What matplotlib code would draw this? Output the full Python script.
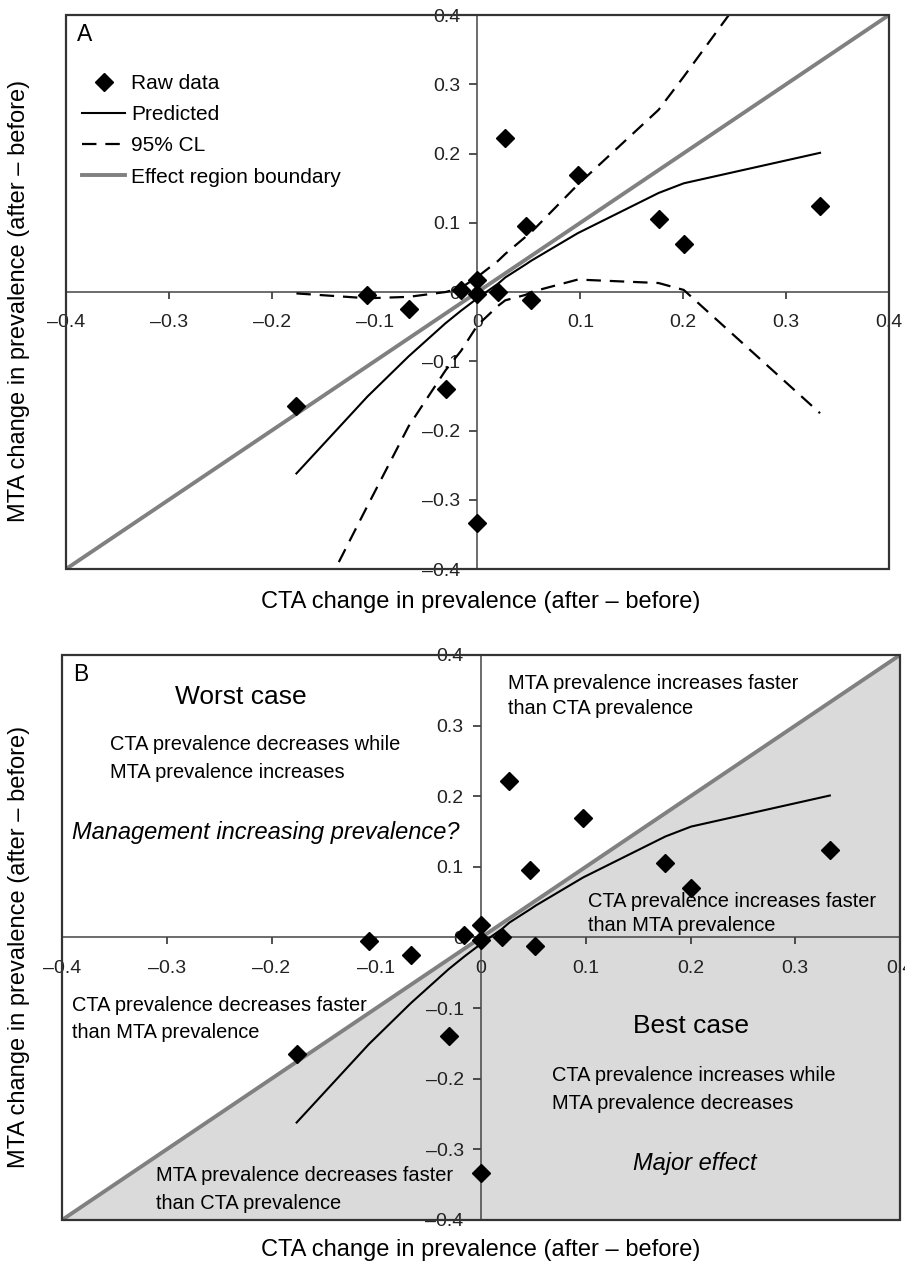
import matplotlib
matplotlib.use("Agg")
from matplotlib import pyplot as plt
from matplotlib.lines import Line2D
from matplotlib.patches import Rectangle
from matplotlib.ticker import FuncFormatter

plt.rcParams['font.family'] = ['Liberation Sans', 'DejaVu Sans']

# raw data (CTA change, MTA change)
raw_x = [-0.176, -0.107, -0.067, -0.031, -0.016, 0.0, 0.0, 0.0, 0.020,
         0.027, 0.047, 0.052, 0.0975, 0.176, 0.2005, 0.333]
raw_y = [-0.165, -0.005, -0.025, -0.140, 0.003, 0.018, -0.003, -0.334,
         0.0, 0.222, 0.096, -0.012, 0.169, 0.105, 0.070, 0.124]

# predicted curve and 95% confidence limits
pred_x = [-0.176, -0.107, -0.067, -0.031, -0.016, 0.0, 0.020, 0.027,
          0.047, 0.052, 0.0975, 0.176, 0.2005, 0.333]
pred_y = [-0.262, -0.151, -0.093, -0.045, -0.027, -0.009, 0.012, 0.021,
          0.040, 0.045, 0.085, 0.143, 0.157, 0.201]
upper_y = [-0.002, -0.009, -0.007, 0.0, 0.006, 0.022, 0.045, 0.055,
           0.080, 0.086, 0.155, 0.263, 0.311, 0.58]
lower_y = [-0.51, -0.309, -0.194, -0.113, -0.085, -0.048, -0.020, -0.012,
           -0.004, 0.0, 0.018, 0.013, 0.003, -0.175]

# effect region boundary (1:1 line)
bound_x = [-0.4, 0.4]
bound_y = [-0.4, 0.4]

ticks = [-0.4, -0.3, -0.2, -0.1, 0.0, 0.1, 0.2, 0.3, 0.4]

xlab = "CTA change in prevalence (after \u2013 before)"
ylab = "MTA change in prevalence (after \u2013 before)"


def fmt(v, pos):
    if abs(v) < 1e-9:
        return "0"
    s = "%.1f" % abs(v)
    return ("\u2013" + s) if v < 0 else s


def setup(ax):
    ax.set_xlim(-0.4, 0.4)
    ax.set_ylim(-0.4, 0.4)
    ax.spines['left'].set_position(('data', 0))
    ax.spines['bottom'].set_position(('data', 0))
    for s in ['left', 'bottom']:
        ax.spines[s].set_linewidth(1.1)
        ax.spines[s].set_color('#444444')
    ax.spines['top'].set_visible(False)
    ax.spines['right'].set_visible(False)
    ax.set_xticks(ticks)
    ax.set_yticks(ticks)
    ax.xaxis.set_major_formatter(FuncFormatter(fmt))
    ax.yaxis.set_major_formatter(FuncFormatter(fmt))
    ax.tick_params(axis='x', direction='out', length=5, width=1.1,
                   pad=11, labelsize=14, colors='#222222')
    ax.tick_params(axis='y', direction='out', length=5.5, width=1.1,
                   pad=7, labelsize=14, colors='#222222')
    ax.add_patch(Rectangle((0, 0), 1, 1, transform=ax.transAxes, fill=False,
                           lw=1.6, ec='#333333', clip_on=False, zorder=6))
    ax.patch.set_alpha(0)


fig = plt.figure(figsize=(9.05, 12.62), dpi=100)

# ---- panel A
axA = fig.add_axes([0.0729, 0.5491, 0.9094, 0.439])
setup(axA)
axA.plot(bound_x, bound_y, color='#808080', lw=2.8, zorder=3)
axA.plot(pred_x, upper_y, color='black', lw=1.6, dashes=(6.5, 4), zorder=3)
axA.plot(pred_x, lower_y, color='black', lw=1.6, dashes=(6.5, 4), zorder=3)
axA.plot(pred_x, pred_y, color='black', lw=1.5, zorder=4)
axA.plot(raw_x, raw_y, 'D', color='black', ms=9, zorder=5, clip_on=False)
axA.text(0.013, 0.985, "A", transform=axA.transAxes, fontsize=16.5,
         va='top', ha='left')

handles = [
    Line2D([], [], marker='D', color='black', ls='none', ms=9),
    Line2D([], [], color='black', lw=1.5),
    Line2D([], [], color='black', lw=1.6, dashes=(6.5, 4)),
    Line2D([], [], color='#808080', lw=2.8),
]
axA.legend(handles, ["Raw data", "Predicted", "95% CL",
                     "Effect region boundary"],
           loc='upper left', bbox_to_anchor=(0.02, 0.893), frameon=False,
           fontsize=15, handlelength=2.05, handletextpad=0.3,
           labelspacing=0.58, borderpad=0, borderaxespad=0)

fig.text(481 / 905, 1 - 602 / 1262, xlab, ha='center', va='center',
         fontsize=17)
fig.text(19 / 905, 1 - 301 / 1262, ylab, ha='center', va='center',
         rotation=90, fontsize=17)

# ---- panel B
axB = fig.add_axes([0.0685, 0.0333, 0.926, 0.4477])
setup(axB)
axB.fill_between(bound_x, bound_y, -0.4, color='#dadada', lw=0, zorder=0.5)
axB.plot(bound_x, bound_y, color='#808080', lw=2.8, zorder=3)
axB.plot(pred_x, pred_y, color='black', lw=1.5, zorder=4)
axB.plot(raw_x, raw_y, 'D', color='black', ms=9, zorder=5, clip_on=False)
axB.text(0.013, 0.985, "B", transform=axB.transAxes, fontsize=16.5,
         va='top', ha='left')

axB.text(-0.229, 0.341, "Worst case", fontsize=19, ha='center', va='center')
axB.text(-0.354, 0.2535, "CTA prevalence decreases while\nMTA prevalence increases",
         fontsize=14.4, ha='left', va='center', linespacing=1.6)
axB.text(-0.39, 0.149, "Management increasing prevalence?", fontsize=17,
         style='italic', ha='left', va='center')
axB.text(0.026, 0.342, "MTA prevalence increases faster\nthan CTA prevalence",
         fontsize=14.4, ha='left', va='center', linespacing=1.45)
axB.text(0.102, 0.034, "CTA prevalence increases faster\nthan MTA prevalence",
         fontsize=14.4, ha='left', va='center', linespacing=1.35)
axB.text(-0.39, -0.115, "CTA prevalence decreases faster\nthan MTA prevalence",
         fontsize=14.4, ha='left', va='center', linespacing=1.55)
axB.text(0.2, -0.125, "Best case", fontsize=19, ha='center', va='center')
axB.text(0.068, -0.215, "CTA prevalence increases while\nMTA prevalence decreases",
         fontsize=14.4, ha='left', va='center', linespacing=1.6)
axB.text(0.204, -0.32, "Major effect", fontsize=17, style='italic',
         ha='center', va='center')
axB.text(-0.31, -0.357, "MTA prevalence decreases faster\nthan CTA prevalence",
         fontsize=14.4, ha='left', va='center', linespacing=1.6)

fig.text(481 / 905, 1 - 1250 / 1262, xlab, ha='center', va='center',
         fontsize=17)
fig.text(19 / 905, 1 - 947 / 1262, ylab, ha='center', va='center',
         rotation=90, fontsize=17)

fig.savefig("out.png", dpi=100)
